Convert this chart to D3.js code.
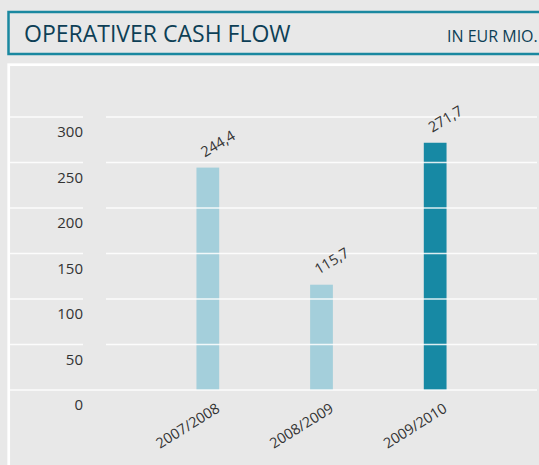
<!DOCTYPE html>
<html>
<head>
<meta charset="utf-8">
<script src="https://cdn.jsdelivr.net/npm/d3@7"></script>
<style>
  body { margin: 0; background: #e8e8e8; }
  svg { display: block; font-family: 'Open Sans', sans-serif; }
</style>
</head>
<body>
<svg width="539" height="465"></svg>
<script>
const categories = ['2007/2008', '2008/2009', '2009/2010'];
const values = [244.4, 115.7, 271.7];
const valueLabels = ['244,4', '115,7', '271,7'];
const yTicks = [0, 50, 100, 150, 200, 250, 300];
const barColors = ['#a4cfdb', '#a4cfdb', '#1789a4'];

const svg = d3.select('svg');

// title box
svg.append('rect')
  .attr('x', 8.5).attr('y', 12)
  .attr('width', 560).attr('height', 42)
  .attr('fill', '#e8e8e8')
  .attr('stroke', '#1a88a0')
  .attr('stroke-width', 2.5);

svg.append('text')
  .attr('x', 24).attr('y', 42)
  .attr('fill', '#0d3f56')
  .attr('font-size', 23)
  .text('OPERATIVER CASH FLOW');

svg.append('text')
  .attr('x', 447).attr('y', 42)
  .attr('fill', '#0d3f56')
  .attr('font-size', 16)
  .text('IN EUR MIO.');

// panel
svg.append('rect')
  .attr('x', 8.7).attr('y', 64.7)
  .attr('width', 560).attr('height', 420)
  .attr('fill', '#e8e8e8')
  .attr('stroke', '#ffffff')
  .attr('stroke-width', 2.7);

const y = d3.scaleLinear()
  .domain([0, 300])
  .range([390, 117]);

const x = d3.scaleBand()
  .domain(categories)
  .range([151, 492])
  .paddingInner(0.8)
  .paddingOuter(0.4);

// bars
svg.selectAll('.bar')
  .data(values)
  .enter()
  .append('rect')
  .attr('class', 'bar')
  .attr('x', (d, i) => x(categories[i]))
  .attr('y', d => y(d))
  .attr('width', x.bandwidth())
  .attr('height', d => y(0) - y(d))
  .attr('fill', (d, i) => barColors[i]);

// gridlines (drawn over the bars, with a gap left of the plot)
const grid = svg.append('g');
yTicks.forEach(t => {
  if (t == 0) {
    grid.append('line')
      .attr('x1', 10).attr('x2', 537)
      .attr('y1', y(t)).attr('y2', y(t));
  } else {
    grid.append('line')
      .attr('x1', 10).attr('x2', 83)
      .attr('y1', y(t)).attr('y2', y(t));
    grid.append('line')
      .attr('x1', 106).attr('x2', 537)
      .attr('y1', y(t)).attr('y2', y(t));
  }
});
grid.selectAll('line')
  .attr('stroke', '#ffffff')
  .attr('stroke-opacity', 0.85)
  .attr('stroke-width', 1.6);

// y axis labels
const yAxis = svg.append('g')
  .attr('transform', 'translate(83,0)')
  .call(d3.axisLeft(y).tickValues(yTicks).tickSize(0).tickPadding(0));
yAxis.select('.domain').remove();
yAxis.selectAll('text')
  .attr('dy', '1.3em')
  .attr('fill', '#333')
  .attr('font-size', 15)
  .attr('font-family', 'Open Sans, sans-serif');

// x axis labels
const xAxis = svg.append('g')
  .attr('transform', 'translate(0,390)')
  .call(d3.axisBottom(x).tickSize(0).tickPadding(0));
xAxis.select('.domain').remove();
xAxis.selectAll('text')
  .attr('y', 0).attr('dy', 0)
  .attr('text-anchor', 'end')
  .attr('fill', '#333')
  .attr('font-size', 14.5)
  .attr('font-family', 'Open Sans, sans-serif')
  .attr('transform', 'translate(13,21) rotate(-32)');

// value labels
svg.selectAll('.val')
  .data(values)
  .enter()
  .append('text')
  .attr('class', 'val')
  .attr('fill', '#333')
  .attr('font-size', 14.5)
  .attr('transform', (d, i) =>
    'translate(' + (x(categories[i]) + x.bandwidth() / 2 - 3) + ',' + (y(d) - 10) + ') rotate(-31)')
  .text((d, i) => valueLabels[i]);
</script>
</body>
</html>
